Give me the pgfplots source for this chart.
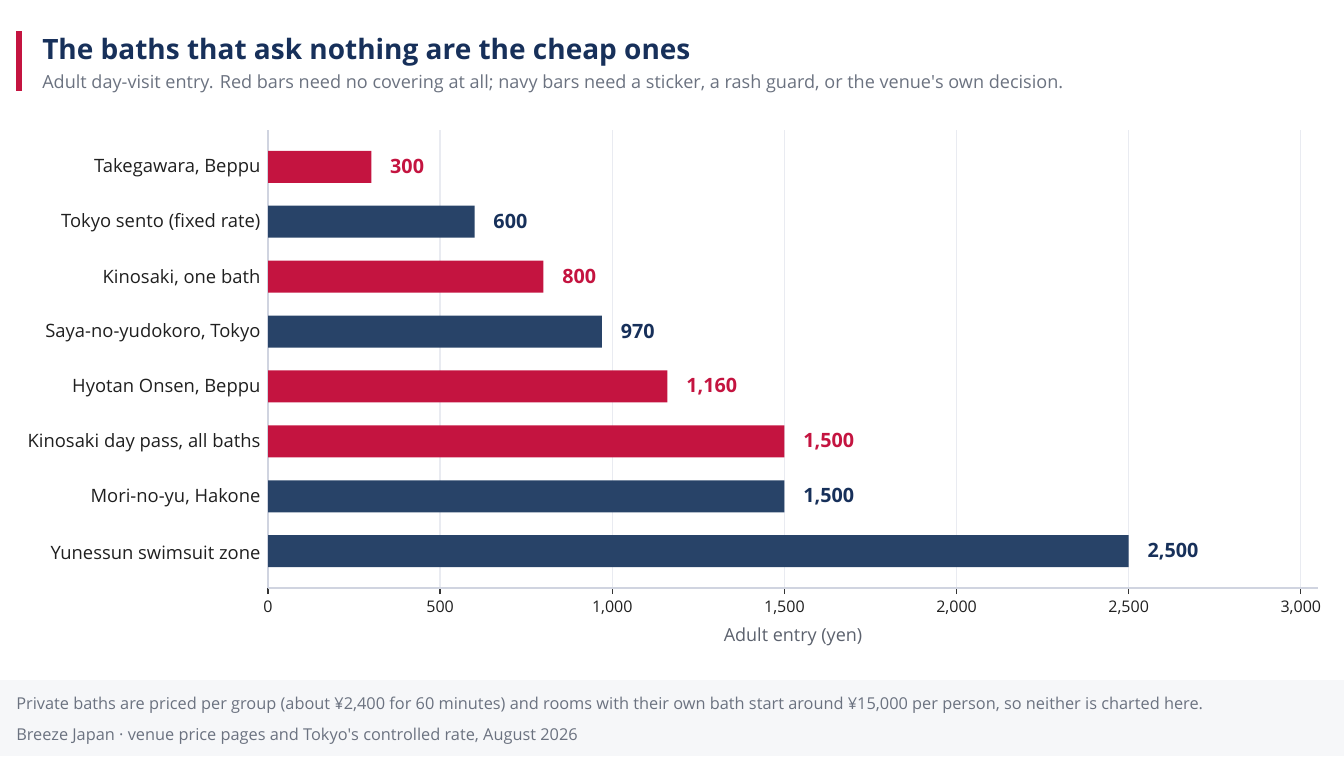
\documentclass[border=0pt]{standalone}
\usepackage{fontspec}
\setmainfont{Open Sans}
\usepackage{pgfplots}
\pgfplotsset{compat=1.18}
\definecolor{redbar}{HTML}{C41440}
\definecolor{navybar}{HTML}{284368}
\definecolor{titlenavy}{HTML}{17305A}
\definecolor{subgrey}{HTML}{6B7280}
\definecolor{footbg}{HTML}{F6F7F9}
\definecolor{axisgrey}{HTML}{D0D4E0}
\definecolor{gridgrey}{HTML}{E9EBF1}
\definecolor{labeltext}{HTML}{1F1F1F}
\begin{document}
\begin{tikzpicture}[x=0.75pt,y=-0.75pt]
\path[use as bounding box] (0,0) rectangle (1344,756);
\fill[footbg] (0,680) rectangle (1344,756);
\fill[redbar] (16,31) rectangle (22,91);
\node[anchor=base west, inner sep=0pt, font=\bfseries\fontsize{21}{25}\selectfont, text=titlenavy] at (42,60) {The baths that ask nothing are the cheap ones};
\node[anchor=base west, inner sep=0pt, font=\fontsize{13.55}{16}\selectfont, text=subgrey] at (42,89) {Adult day-visit entry. Red bars need no covering at all; navy bars need a sticker, a rash guard, or the venue\textquotesingle s own decision.};
\node[anchor=base west, inner sep=0pt, font=\fontsize{12.25}{14}\selectfont, text=subgrey] at (16,709) {Private baths are priced per group (about ¥2,400 for 60 minutes) and rooms with their own bath start around ¥15,000 per person, so neither is charted here.};
\node[anchor=base west, inner sep=0pt, font=\fontsize{12.25}{14}\selectfont, text=subgrey] at (16,740) {Breeze Japan · venue price pages and Tokyo\textquotesingle s controlled rate, August 2026};
\begin{axis}[
  at={(201pt,-441pt)}, anchor=south west,
  scale only axis, width=787.5pt, height=343.5pt,
  xbar, bar shift=0pt, bar width=24pt,
  xmin=0, xmax=3050, ymin=-0.67, ymax=7.67,
  axis x line*=bottom, axis y line*=left,
  axis line style={draw=axisgrey, line width=1.2pt, -},
  xtick={0,500,...,3000},
  ytick={0,...,7},
  yticklabels={Yunessun swimsuit zone,{Mori-no-yu, Hakone},{Kinosaki day pass, all baths},{Hyotan Onsen, Beppu},{Saya-no-yudokoro, Tokyo},{Kinosaki, one bath},Tokyo sento (fixed rate),{Takegawara, Beppu}},
  xmajorgrids, major grid style={draw=gridgrey, line width=1pt},
  tick align=outside,
  major tick length=4.5pt,
  xtick style={draw=black!80, line width=1pt},
  ytick style={draw=none},
  /pgf/number format/1000 sep={,},
  /pgf/number format/assume math mode=true,
  xticklabel style={font=\fontsize{12}{14}\selectfont, text=labeltext, yshift=-2pt},
  yticklabel style={font=\fontsize{13.8}{16}\selectfont, text=labeltext, inner sep=0pt, xshift=-1pt, yshift=-1pt},
  xlabel={Adult entry (yen)},
  xlabel style={at={(axis description cs:0.5,0)}, anchor=base, yshift=-39.75pt, font=\fontsize{13.5}{16}\selectfont, text=subgrey!85!black},
  nodes near coords={\pgfmathprintnumber[1000 sep={,}]{\pgfplotspointmeta}},
  point meta=x,
  every node near coord/.append style={font=\bfseries\fontsize{14.8}{17}\selectfont, anchor=west, inner sep=0pt, xshift=14pt},
  clip=false,
]
\addplot[fill=redbar, draw=none, every node near coord/.append style={text=redbar}] coordinates {(300,7) (800,5) (1160,3) (1500,2)};
\addplot[fill=navybar, draw=none, every node near coord/.append style={text=titlenavy}] coordinates {(600,6) (970,4) (1500,1) (2500,0)};
\end{axis}
\end{tikzpicture}
\end{document}
